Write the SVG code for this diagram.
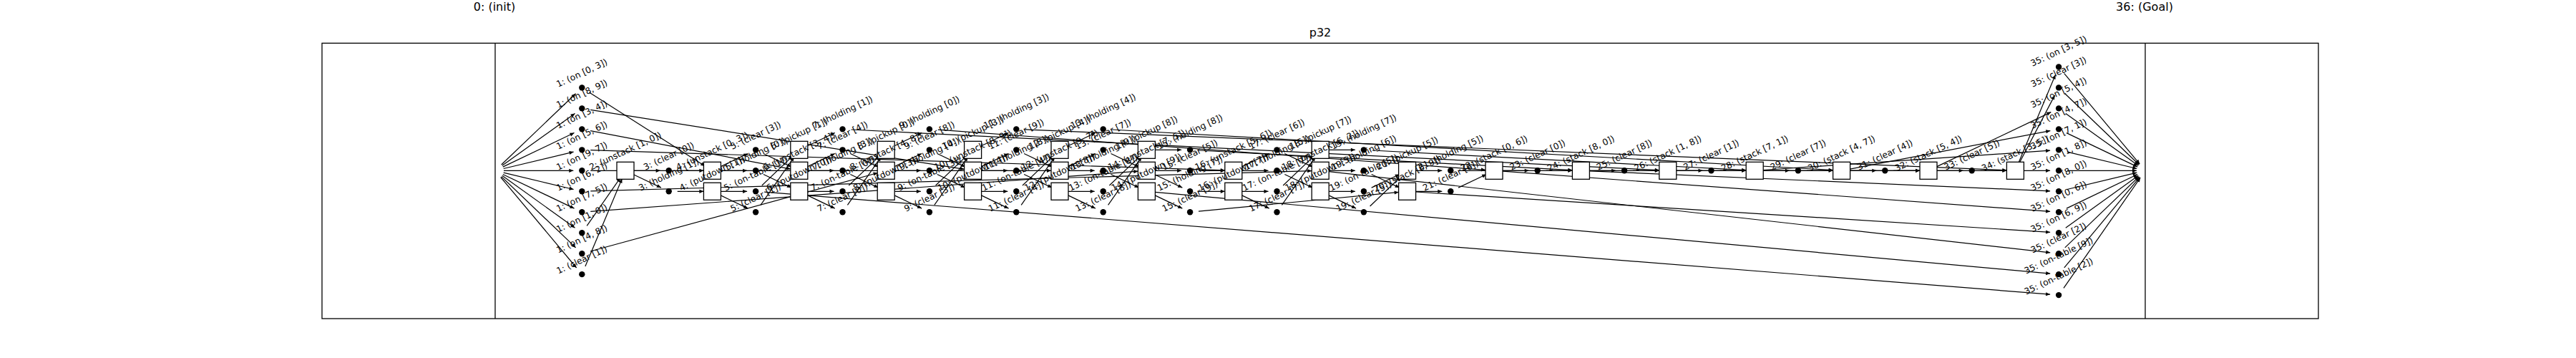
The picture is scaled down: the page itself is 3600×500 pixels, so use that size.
<svg xmlns="http://www.w3.org/2000/svg" width="3600" height="500" viewBox="0 0 3600 500">
<style>
.t{font-family:"DejaVu Sans",Verdana,sans-serif;font-size:12.2px;text-anchor:middle;dominant-baseline:central;fill:#000}
.h{font-family:"DejaVu Sans",Verdana,sans-serif;text-anchor:middle;fill:#000}
.d{fill:#000}
.b{fill:#fff;stroke:#000;stroke-width:1.3}
.e path{fill:none;stroke:#000;stroke-width:1.2;marker-end:url(#ah)}
.fr{fill:none;stroke:#000;stroke-width:1.3}
</style>
<defs>
<marker id="ah" markerUnits="userSpaceOnUse" orient="auto" refX="0" refY="0" markerWidth="8" markerHeight="8" overflow="visible"><path d="M0,0 L-6,-2.6 L-6,2.6 Z" fill="#000"/></marker>
</defs>
<rect width="3600" height="500" fill="#fff"/>
<g id="frame">
<rect class="fr" x="450" y="60.3" width="2790" height="384.7"/>
<line class="fr" x1="692" y1="60.3" x2="692" y2="445"/>
<line class="fr" x1="2998" y1="60.3" x2="2998" y2="445"/>
<text class="h" x="1845" y="51" font-size="16">p32</text>
</g>
<g id="init"><text class="h" x="691" y="15" font-size="16">0: (init)</text></g>
<g id="goal"><text class="h" x="2997" y="15" font-size="16">36: (Goal)</text></g>
<g id="connectors" class="e">
<path d="M700.7 230.0L804.6 130.7"/><path d="M701.8 231.3L803.5 158.4"/><path d="M702.8 233.1L802.5 185.5"/><path d="M703.7 235.5L801.6 212.1"/><path d="M704 238.3L801.3 238.3"/><path d="M703.7 241.1L801.6 264.5"/><path d="M702.8 243.5L802.5 291.1"/><path d="M701.8 245.3L803.5 318.2"/><path d="M700.7 246.6L804.6 345.9"/><path d="M699.7 247.5L805.6 374.0"/>
<path d="M2884.8 102.7L2990.3 229.1"/><path d="M2885.8 130.7L2989.3 230.0"/><path d="M2886.8 158.4L2988.3 231.3"/><path d="M2887.9 185.6L2987.2 233.1"/><path d="M2888.8 212.1L2986.3 235.5"/><path d="M2889.1 238.3L2986 238.3"/><path d="M2888.8 264.5L2986.3 241.1"/><path d="M2887.9 291.1L2987.2 243.5"/><path d="M2886.8 318.2L2988.3 245.3"/><path d="M2885.8 345.9L2989.3 246.6"/><path d="M2884.8 373.9L2990.3 247.5"/><path d="M2884.0 402.3L2991.2 248.2"/>
<path d="M823.4 128.9L985.3 231.9"/><path d="M825.2 153.3L1347.8 236.4"/><path d="M825.1 182.6L1105.0 236.1"/><path d="M825.3 209.7L1711.8 237.9"/><path d="M825.3 238.3L1469 238.3"/><path d="M825.3 266.9L1833.2 238.6"/><path d="M825.3 295.4L1590.4 239.2"/><path d="M820.2 315.4L867.1 248.1"/><path d="M824.9 351.0L1226.6 241.5"/><path d="M817.9 372.1L869.4 249.4"/>
<path d="M1068.1 268.2L2865.1 411.2"/><path d="M1189.5 181.0L2318.8 237.7"/><path d="M1310.9 181.2L2076.0 237.4"/><path d="M1432.3 180.9L2804.4 237.8"/><path d="M1553.7 181.0L2561.6 237.6"/><path d="M1675.1 210.0L2197.4 237.7"/><path d="M1675.0 295.1L1954.7 268.4"/><path d="M1917.9 210.0L2440.2 237.7"/><path d="M2039.3 238.3L2683 238.3"/>
<path d="M1614.4 268.4L2865.2 382.1"/><path d="M1857.1 239.6L2865.2 352.8"/><path d="M1978.6 268.0L2865.1 324.4"/><path d="M2100.0 239.2L2865.1 295.4"/><path d="M2221.4 238.8L2865.1 266.8"/><path d="M2342.8 238.3L2865.1 238.3"/><path d="M2464.2 237.5L2865.1 210.2"/><path d="M2585.4 236.1L2865.3 182.6"/><path d="M2705.8 233.1L2866.3 156.6"/><path d="M2822.0 227.7L2871.5 133.1"/><path d="M2821.0 227.2L2872.5 104.5"/>
<path d="M886 238.3L922.7 238.3"/><path d="M884.8 243.5L923.9 262.1"/>
<path d="M946.7 238.3L983.4 238.3"/><path d="M946.7 267.3L983.4 267.3"/>
<path d="M1006.2 233.1L1045.3 214.5"/><path d="M1007.4 238.3L1044.1 238.3"/><path d="M1007.4 267.3L1044.1 267.3"/><path d="M1006.2 272.4L1045.3 291.1"/>
<path d="M1066.9 214.5L1106.0 233.1"/><path d="M1066.9 243.5L1106.0 262.1"/><path d="M1064.8 259.0L1108.1 217.6"/><path d="M1063.0 286.4L1109.9 219.2"/>
<path d="M1127.6 204.2L1166.7 185.5"/><path d="M1127.6 233.1L1166.7 214.5"/><path d="M1128.8 238.3L1165.5 238.3"/><path d="M1128.8 267.3L1165.5 267.3"/><path d="M1127.6 272.4L1166.7 291.1"/>
<path d="M1188.3 214.5L1227.4 233.1"/><path d="M1188.3 243.5L1227.4 262.1"/><path d="M1186.2 259.0L1229.5 217.6"/><path d="M1184.4 286.4L1231.3 219.2"/>
<path d="M1249.0 204.2L1288.1 185.5"/><path d="M1249.0 233.1L1288.1 214.5"/><path d="M1250.2 238.3L1286.9 238.3"/><path d="M1250.2 267.3L1286.9 267.3"/><path d="M1249.0 272.4L1288.1 291.1"/>
<path d="M1309.7 214.5L1348.8 233.1"/><path d="M1309.7 243.5L1348.8 262.1"/><path d="M1307.6 259.0L1350.9 217.6"/><path d="M1305.8 286.4L1352.7 219.2"/>
<path d="M1370.4 204.2L1409.5 185.5"/><path d="M1370.4 233.1L1409.5 214.5"/><path d="M1371.6 238.3L1408.3 238.3"/><path d="M1371.6 267.3L1408.3 267.3"/><path d="M1370.4 272.4L1409.5 291.1"/>
<path d="M1431.1 214.5L1470.2 233.1"/><path d="M1431.1 243.5L1470.2 262.1"/><path d="M1429.0 259.0L1472.3 217.6"/><path d="M1427.2 286.4L1474.1 219.2"/>
<path d="M1491.8 204.2L1530.9 185.5"/><path d="M1491.8 233.1L1530.9 214.5"/><path d="M1493.0 238.3L1529.7 238.3"/><path d="M1493.0 267.3L1529.7 267.3"/><path d="M1491.8 272.4L1530.9 291.1"/>
<path d="M1552.5 214.5L1591.6 233.1"/><path d="M1552.5 243.5L1591.6 262.1"/><path d="M1550.4 259.0L1593.7 217.6"/><path d="M1548.6 286.4L1595.5 219.2"/>
<path d="M1614.4 209.3L1651.1 209.3"/><path d="M1614.4 238.3L1651.1 238.3"/><path d="M1613.2 243.5L1652.3 262.1"/><path d="M1613.2 272.4L1652.3 291.1"/>
<path d="M1675.1 238.3L1711.8 238.3"/><path d="M1675.1 267.3L1711.8 267.3"/>
<path d="M1734.6 233.1L1773.7 214.5"/><path d="M1735.8 238.3L1772.5 238.3"/><path d="M1735.8 267.3L1772.5 267.3"/><path d="M1734.6 272.4L1773.7 291.1"/>
<path d="M1795.3 214.5L1834.4 233.1"/><path d="M1795.3 243.5L1834.4 262.1"/><path d="M1793.2 259.0L1836.5 217.6"/><path d="M1791.4 286.4L1838.3 219.2"/>
<path d="M1857.2 209.3L1893.9 209.3"/><path d="M1857.2 238.3L1893.9 238.3"/><path d="M1857.2 267.3L1893.9 267.3"/><path d="M1856.0 272.4L1895.1 291.1"/>
<path d="M1916.7 243.5L1955.8 262.1"/><path d="M1916.7 262.1L1955.8 243.5"/><path d="M1914.6 288.0L1957.9 246.6"/>
<path d="M1978.6 238.3L2015.3 238.3"/><path d="M1978.6 267.3L2015.3 267.3"/>
<path d="M2038.1 262.1L2077.2 243.5"/>
<path d="M2100 238.3L2136.7 238.3"/><path d="M2160.7 238.3L2197.4 238.3"/><path d="M2221.4 238.3L2258.1 238.3"/><path d="M2282.1 238.3L2318.8 238.3"/><path d="M2342.8 238.3L2379.5 238.3"/><path d="M2403.5 238.3L2440.2 238.3"/><path d="M2464.2 238.3L2500.9 238.3"/><path d="M2524.9 238.3L2561.6 238.3"/><path d="M2585.6 238.3L2622.3 238.3"/><path d="M2646.3 238.3L2683 238.3"/><path d="M2707 238.3L2743.7 238.3"/><path d="M2767.7 238.3L2804.4 238.3"/>
</g>
<g id="f35_0"><circle class="d" cx="2877.1" cy="93.45" r="4.2"/><text class="t" x="2877.1" y="71.54" transform="rotate(-25 2877.1 71.54)">35: (on [3, 5])</text></g>
<g id="f35_1"><circle class="d" cx="2877.1" cy="122.42" r="4.2"/><text class="t" x="2877.1" y="100.64" transform="rotate(-25 2877.1 100.64)">35: (clear [3])</text></g>
<g id="f35_2"><circle class="d" cx="2877.1" cy="151.39" r="4.2"/><text class="t" x="2877.1" y="129.48" transform="rotate(-25 2877.1 129.48)">35: (on [5, 4])</text></g>
<g id="f35_3"><circle class="d" cx="2877.1" cy="180.36" r="4.2"/><text class="t" x="2877.1" y="158.45" transform="rotate(-25 2877.1 158.45)">35: (on [4, 7])</text></g>
<g id="f35_4"><circle class="d" cx="2877.1" cy="209.33" r="4.2"/><text class="t" x="2877.1" y="187.42" transform="rotate(-25 2877.1 187.42)">35: (on [7, 1])</text></g>
<g id="f35_5"><circle class="d" cx="2877.1" cy="238.3" r="4.2"/><text class="t" x="2877.1" y="216.39" transform="rotate(-25 2877.1 216.39)">35: (on [1, 8])</text></g>
<g id="f35_6"><circle class="d" cx="2877.1" cy="267.27" r="4.2"/><text class="t" x="2877.1" y="245.36" transform="rotate(-25 2877.1 245.36)">35: (on [8, 0])</text></g>
<g id="f35_7"><circle class="d" cx="2877.1" cy="296.24" r="4.2"/><text class="t" x="2877.1" y="274.33" transform="rotate(-25 2877.1 274.33)">35: (on [0, 6])</text></g>
<g id="f35_8"><circle class="d" cx="2877.1" cy="325.21" r="4.2"/><text class="t" x="2877.1" y="303.3" transform="rotate(-25 2877.1 303.3)">35: (on [6, 9])</text></g>
<g id="f35_9"><circle class="d" cx="2877.1" cy="354.18" r="4.2"/><text class="t" x="2877.1" y="332.4" transform="rotate(-25 2877.1 332.4)">35: (clear [2])</text></g>
<g id="f35_10"><circle class="d" cx="2877.1" cy="383.15" r="4.2"/><text class="t" x="2877.1" y="357.06" transform="rotate(-25 2877.1 357.06)">35: (on-table [9])</text></g>
<g id="f35_11"><circle class="d" cx="2877.1" cy="412.12" r="4.2"/><text class="t" x="2877.1" y="386.03" transform="rotate(-25 2877.1 386.03)">35: (on-table [2])</text></g>
<g id="a34_5"><rect class="b" x="2804.4" y="226.3" width="24" height="24"/><text class="t" x="2816.4" y="214.4" transform="rotate(-25 2816.4 214.4)">34: (stack [3, 5])</text></g>
<g id="f33_5"><circle class="d" cx="2755.7" cy="238.3" r="4.2"/><text class="t" x="2755.7" y="216.52" transform="rotate(-25 2755.7 216.52)">33: (clear [5])</text></g>
<g id="a32_5"><rect class="b" x="2683" y="226.3" width="24" height="24"/><text class="t" x="2695" y="214.4" transform="rotate(-25 2695 214.4)">32: (stack [5, 4])</text></g>
<g id="f31_5"><circle class="d" cx="2634.3" cy="238.3" r="4.2"/><text class="t" x="2634.3" y="216.52" transform="rotate(-25 2634.3 216.52)">31: (clear [4])</text></g>
<g id="a30_5"><rect class="b" x="2561.6" y="226.3" width="24" height="24"/><text class="t" x="2573.6" y="214.4" transform="rotate(-25 2573.6 214.4)">30: (stack [4, 7])</text></g>
<g id="f29_5"><circle class="d" cx="2512.9" cy="238.3" r="4.2"/><text class="t" x="2512.9" y="216.52" transform="rotate(-25 2512.9 216.52)">29: (clear [7])</text></g>
<g id="a28_5"><rect class="b" x="2440.2" y="226.3" width="24" height="24"/><text class="t" x="2452.2" y="214.4" transform="rotate(-25 2452.2 214.4)">28: (stack [7, 1])</text></g>
<g id="f27_5"><circle class="d" cx="2391.5" cy="238.3" r="4.2"/><text class="t" x="2391.5" y="216.52" transform="rotate(-25 2391.5 216.52)">27: (clear [1])</text></g>
<g id="a26_5"><rect class="b" x="2318.8" y="226.3" width="24" height="24"/><text class="t" x="2330.8" y="214.4" transform="rotate(-25 2330.8 214.4)">26: (stack [1, 8])</text></g>
<g id="f25_5"><circle class="d" cx="2270.1" cy="238.3" r="4.2"/><text class="t" x="2270.1" y="216.52" transform="rotate(-25 2270.1 216.52)">25: (clear [8])</text></g>
<g id="a24_5"><rect class="b" x="2197.4" y="226.3" width="24" height="24"/><text class="t" x="2209.4" y="214.4" transform="rotate(-25 2209.4 214.4)">24: (stack [8, 0])</text></g>
<g id="f23_5"><circle class="d" cx="2148.7" cy="238.3" r="4.2"/><text class="t" x="2148.7" y="216.52" transform="rotate(-25 2148.7 216.52)">23: (clear [0])</text></g>
<g id="a22_5"><rect class="b" x="2076" y="226.3" width="24" height="24"/><text class="t" x="2088" y="214.4" transform="rotate(-25 2088 214.4)">22: (stack [0, 6])</text></g>
<g id="f21_5"><circle class="d" cx="2027.3" cy="238.3" r="4.2"/><text class="t" x="2027.3" y="213.33" transform="rotate(-25 2027.3 213.33)">21: (holding [5])</text></g>
<g id="f21_6"><circle class="d" cx="2027.3" cy="267.27" r="4.2"/><text class="t" x="2027.3" y="245.49" transform="rotate(-25 2027.3 245.49)">21: (clear [6])</text></g>
<g id="a20_5"><rect class="b" x="1954.6" y="226.3" width="24" height="24"/><text class="t" x="1966.6" y="214.35" transform="rotate(-25 1966.6 214.35)">20: (pickup [5])</text></g>
<g id="a20_6"><rect class="b" x="1954.6" y="255.27" width="24" height="24"/><text class="t" x="1966.6" y="243.37" transform="rotate(-25 1966.6 243.37)">20: (stack [6, 9])</text></g>
<g id="f19_4"><circle class="d" cx="1905.9" cy="209.33" r="4.2"/><text class="t" x="1905.9" y="184.36" transform="rotate(-25 1905.9 184.36)">19: (holding [7])</text></g>
<g id="f19_5"><circle class="d" cx="1905.9" cy="238.3" r="4.2"/><text class="t" x="1905.9" y="213.33" transform="rotate(-25 1905.9 213.33)">19: (holding [6])</text></g>
<g id="f19_6"><circle class="d" cx="1905.9" cy="267.27" r="4.2"/><text class="t" x="1905.9" y="241.18" transform="rotate(-25 1905.9 241.18)">19: (on-table [5])</text></g>
<g id="f19_7"><circle class="d" cx="1905.9" cy="296.24" r="4.2"/><text class="t" x="1905.9" y="274.46" transform="rotate(-25 1905.9 274.46)">19: (clear [5])</text></g>
<g id="a18_4"><rect class="b" x="1833.2" y="197.33" width="24" height="24"/><text class="t" x="1845.2" y="185.38" transform="rotate(-25 1845.2 185.38)">18: (pickup [7])</text></g>
<g id="a18_5"><rect class="b" x="1833.2" y="226.3" width="24" height="24"/><text class="t" x="1845.2" y="209.49" transform="rotate(-25 1845.2 209.49)">18: (unstack [6, 2])</text></g>
<g id="a18_6"><rect class="b" x="1833.2" y="255.27" width="24" height="24"/><text class="t" x="1845.2" y="240.61" transform="rotate(-25 1845.2 240.61)">18: (putdown [5])</text></g>
<g id="f17_4"><circle class="d" cx="1784.5" cy="209.33" r="4.2"/><text class="t" x="1784.5" y="187.55" transform="rotate(-25 1784.5 187.55)">17: (clear [6])</text></g>
<g id="f17_5"><circle class="d" cx="1784.5" cy="238.3" r="4.2"/><text class="t" x="1784.5" y="213.33" transform="rotate(-25 1784.5 213.33)">17: (holding [5])</text></g>
<g id="f17_6"><circle class="d" cx="1784.5" cy="267.27" r="4.2"/><text class="t" x="1784.5" y="241.18" transform="rotate(-25 1784.5 241.18)">17: (on-table [7])</text></g>
<g id="f17_7"><circle class="d" cx="1784.5" cy="296.24" r="4.2"/><text class="t" x="1784.5" y="274.46" transform="rotate(-25 1784.5 274.46)">17: (clear [7])</text></g>
<g id="a16_5"><rect class="b" x="1711.8" y="226.3" width="24" height="24"/><text class="t" x="1723.8" y="209.49" transform="rotate(-25 1723.8 209.49)">16: (unstack [5, 6])</text></g>
<g id="a16_6"><rect class="b" x="1711.8" y="255.27" width="24" height="24"/><text class="t" x="1723.8" y="240.61" transform="rotate(-25 1723.8 240.61)">16: (putdown [7])</text></g>
<g id="f15_4"><circle class="d" cx="1663.1" cy="209.33" r="4.2"/><text class="t" x="1663.1" y="184.36" transform="rotate(-25 1663.1 184.36)">15: (holding [8])</text></g>
<g id="f15_5"><circle class="d" cx="1663.1" cy="238.3" r="4.2"/><text class="t" x="1663.1" y="216.52" transform="rotate(-25 1663.1 216.52)">15: (clear [5])</text></g>
<g id="f15_6"><circle class="d" cx="1663.1" cy="267.27" r="4.2"/><text class="t" x="1663.1" y="242.3" transform="rotate(-25 1663.1 242.3)">15: (holding [7])</text></g>
<g id="f15_7"><circle class="d" cx="1663.1" cy="296.24" r="4.2"/><text class="t" x="1663.1" y="274.46" transform="rotate(-25 1663.1 274.46)">15: (clear [9])</text></g>
<g id="a14_4"><rect class="b" x="1590.4" y="197.33" width="24" height="24"/><text class="t" x="1602.4" y="185.38" transform="rotate(-25 1602.4 185.38)">14: (pickup [8])</text></g>
<g id="a14_5"><rect class="b" x="1590.4" y="226.3" width="24" height="24"/><text class="t" x="1602.4" y="209.49" transform="rotate(-25 1602.4 209.49)">14: (unstack [7, 5])</text></g>
<g id="a14_6"><rect class="b" x="1590.4" y="255.27" width="24" height="24"/><text class="t" x="1602.4" y="240.61" transform="rotate(-25 1602.4 240.61)">14: (putdown [9])</text></g>
<g id="f13_3"><circle class="d" cx="1541.7" cy="180.36" r="4.2"/><text class="t" x="1541.7" y="155.39" transform="rotate(-25 1541.7 155.39)">13: (holding [4])</text></g>
<g id="f13_4"><circle class="d" cx="1541.7" cy="209.33" r="4.2"/><text class="t" x="1541.7" y="187.55" transform="rotate(-25 1541.7 187.55)">13: (clear [7])</text></g>
<g id="f13_5"><circle class="d" cx="1541.7" cy="238.3" r="4.2"/><text class="t" x="1541.7" y="213.33" transform="rotate(-25 1541.7 213.33)">13: (holding [9])</text></g>
<g id="f13_6"><circle class="d" cx="1541.7" cy="267.27" r="4.2"/><text class="t" x="1541.7" y="241.18" transform="rotate(-25 1541.7 241.18)">13: (on-table [8])</text></g>
<g id="f13_7"><circle class="d" cx="1541.7" cy="296.24" r="4.2"/><text class="t" x="1541.7" y="274.46" transform="rotate(-25 1541.7 274.46)">13: (clear [8])</text></g>
<g id="a12_4"><rect class="b" x="1469" y="197.33" width="24" height="24"/><text class="t" x="1481" y="185.38" transform="rotate(-25 1481 185.38)">12: (pickup [4])</text></g>
<g id="a12_5"><rect class="b" x="1469" y="226.3" width="24" height="24"/><text class="t" x="1481" y="209.49" transform="rotate(-25 1481 209.49)">12: (unstack [9, 7])</text></g>
<g id="a12_6"><rect class="b" x="1469" y="255.27" width="24" height="24"/><text class="t" x="1481" y="240.61" transform="rotate(-25 1481 240.61)">12: (putdown [8])</text></g>
<g id="f11_3"><circle class="d" cx="1420.3" cy="180.36" r="4.2"/><text class="t" x="1420.3" y="155.39" transform="rotate(-25 1420.3 155.39)">11: (holding [3])</text></g>
<g id="f11_4"><circle class="d" cx="1420.3" cy="209.33" r="4.2"/><text class="t" x="1420.3" y="187.55" transform="rotate(-25 1420.3 187.55)">11: (clear [9])</text></g>
<g id="f11_5"><circle class="d" cx="1420.3" cy="238.3" r="4.2"/><text class="t" x="1420.3" y="213.33" transform="rotate(-25 1420.3 213.33)">11: (holding [8])</text></g>
<g id="f11_6"><circle class="d" cx="1420.3" cy="267.27" r="4.2"/><text class="t" x="1420.3" y="241.18" transform="rotate(-25 1420.3 241.18)">11: (on-table [4])</text></g>
<g id="f11_7"><circle class="d" cx="1420.3" cy="296.24" r="4.2"/><text class="t" x="1420.3" y="274.46" transform="rotate(-25 1420.3 274.46)">11: (clear [4])</text></g>
<g id="a10_4"><rect class="b" x="1347.6" y="197.33" width="24" height="24"/><text class="t" x="1359.6" y="185.38" transform="rotate(-25 1359.6 185.38)">10: (pickup [3])</text></g>
<g id="a10_5"><rect class="b" x="1347.6" y="226.3" width="24" height="24"/><text class="t" x="1359.6" y="209.49" transform="rotate(-25 1359.6 209.49)">10: (unstack [8, 9])</text></g>
<g id="a10_6"><rect class="b" x="1347.6" y="255.27" width="24" height="24"/><text class="t" x="1359.6" y="240.61" transform="rotate(-25 1359.6 240.61)">10: (putdown [4])</text></g>
<g id="f9_3"><circle class="d" cx="1298.9" cy="180.36" r="4.2"/><text class="t" x="1298.9" y="157.03" transform="rotate(-25 1298.9 157.03)">9: (holding [0])</text></g>
<g id="f9_4"><circle class="d" cx="1298.9" cy="209.33" r="4.2"/><text class="t" x="1298.9" y="189.19" transform="rotate(-25 1298.9 189.19)">9: (clear [8])</text></g>
<g id="f9_5"><circle class="d" cx="1298.9" cy="238.3" r="4.2"/><text class="t" x="1298.9" y="214.97" transform="rotate(-25 1298.9 214.97)">9: (holding [4])</text></g>
<g id="f9_6"><circle class="d" cx="1298.9" cy="267.27" r="4.2"/><text class="t" x="1298.9" y="242.82" transform="rotate(-25 1298.9 242.82)">9: (on-table [3])</text></g>
<g id="f9_7"><circle class="d" cx="1298.9" cy="296.24" r="4.2"/><text class="t" x="1298.9" y="276.1" transform="rotate(-25 1298.9 276.1)">9: (clear [3])</text></g>
<g id="a8_4"><rect class="b" x="1226.2" y="197.33" width="24" height="24"/><text class="t" x="1238.2" y="187.01" transform="rotate(-25 1238.2 187.01)">8: (pickup [0])</text></g>
<g id="a8_5"><rect class="b" x="1226.2" y="226.3" width="24" height="24"/><text class="t" x="1238.2" y="211.13" transform="rotate(-25 1238.2 211.13)">8: (unstack [4, 8])</text></g>
<g id="a8_6"><rect class="b" x="1226.2" y="255.27" width="24" height="24"/><text class="t" x="1238.2" y="242.25" transform="rotate(-25 1238.2 242.25)">8: (putdown [3])</text></g>
<g id="f7_3"><circle class="d" cx="1177.5" cy="180.36" r="4.2"/><text class="t" x="1177.5" y="157.03" transform="rotate(-25 1177.5 157.03)">7: (holding [1])</text></g>
<g id="f7_4"><circle class="d" cx="1177.5" cy="209.33" r="4.2"/><text class="t" x="1177.5" y="189.19" transform="rotate(-25 1177.5 189.19)">7: (clear [4])</text></g>
<g id="f7_5"><circle class="d" cx="1177.5" cy="238.3" r="4.2"/><text class="t" x="1177.5" y="214.97" transform="rotate(-25 1177.5 214.97)">7: (holding [3])</text></g>
<g id="f7_6"><circle class="d" cx="1177.5" cy="267.27" r="4.2"/><text class="t" x="1177.5" y="242.82" transform="rotate(-25 1177.5 242.82)">7: (on-table [0])</text></g>
<g id="f7_7"><circle class="d" cx="1177.5" cy="296.24" r="4.2"/><text class="t" x="1177.5" y="276.1" transform="rotate(-25 1177.5 276.1)">7: (clear [0])</text></g>
<g id="a6_4"><rect class="b" x="1104.8" y="197.33" width="24" height="24"/><text class="t" x="1116.8" y="187.01" transform="rotate(-25 1116.8 187.01)">6: (pickup [1])</text></g>
<g id="a6_5"><rect class="b" x="1104.8" y="226.3" width="24" height="24"/><text class="t" x="1116.8" y="211.13" transform="rotate(-25 1116.8 211.13)">6: (unstack [3, 4])</text></g>
<g id="a6_6"><rect class="b" x="1104.8" y="255.27" width="24" height="24"/><text class="t" x="1116.8" y="242.25" transform="rotate(-25 1116.8 242.25)">6: (putdown [0])</text></g>
<g id="f5_4"><circle class="d" cx="1056.1" cy="209.33" r="4.2"/><text class="t" x="1056.1" y="189.19" transform="rotate(-25 1056.1 189.19)">5: (clear [3])</text></g>
<g id="f5_5"><circle class="d" cx="1056.1" cy="238.3" r="4.2"/><text class="t" x="1056.1" y="214.97" transform="rotate(-25 1056.1 214.97)">5: (holding [0])</text></g>
<g id="f5_6"><circle class="d" cx="1056.1" cy="267.27" r="4.2"/><text class="t" x="1056.1" y="242.82" transform="rotate(-25 1056.1 242.82)">5: (on-table [1])</text></g>
<g id="f5_7"><circle class="d" cx="1056.1" cy="296.24" r="4.2"/><text class="t" x="1056.1" y="276.1" transform="rotate(-25 1056.1 276.1)">5: (clear [1])</text></g>
<g id="a4_5"><rect class="b" x="983.4" y="226.3" width="24" height="24"/><text class="t" x="995.4" y="211.13" transform="rotate(-25 995.4 211.13)">4: (unstack [0, 3])</text></g>
<g id="a4_6"><rect class="b" x="983.4" y="255.27" width="24" height="24"/><text class="t" x="995.4" y="242.25" transform="rotate(-25 995.4 242.25)">4: (putdown [1])</text></g>
<g id="f3_5"><circle class="d" cx="934.7" cy="238.3" r="4.2"/><text class="t" x="934.7" y="218.16" transform="rotate(-25 934.7 218.16)">3: (clear [0])</text></g>
<g id="f3_6"><circle class="d" cx="934.7" cy="267.27" r="4.2"/><text class="t" x="934.7" y="243.94" transform="rotate(-25 934.7 243.94)">3: (holding [1])</text></g>
<g id="a2_5"><rect class="b" x="862" y="226.3" width="24" height="24"/><text class="t" x="874" y="211.13" transform="rotate(-25 874 211.13)">2: (unstack [1, 0])</text></g>
<g id="f1_1"><circle class="d" cx="813.3" cy="122.42" r="4.2"/><text class="t" x="813.3" y="102.15" transform="rotate(-25 813.3 102.15)">1: (on [0, 3])</text></g>
<g id="f1_2"><circle class="d" cx="813.3" cy="151.39" r="4.2"/><text class="t" x="813.3" y="131.12" transform="rotate(-25 813.3 131.12)">1: (on [8, 9])</text></g>
<g id="f1_3"><circle class="d" cx="813.3" cy="180.36" r="4.2"/><text class="t" x="813.3" y="160.09" transform="rotate(-25 813.3 160.09)">1: (on [3, 4])</text></g>
<g id="f1_4"><circle class="d" cx="813.3" cy="209.33" r="4.2"/><text class="t" x="813.3" y="189.06" transform="rotate(-25 813.3 189.06)">1: (on [5, 6])</text></g>
<g id="f1_5"><circle class="d" cx="813.3" cy="238.3" r="4.2"/><text class="t" x="813.3" y="218.03" transform="rotate(-25 813.3 218.03)">1: (on [9, 7])</text></g>
<g id="f1_6"><circle class="d" cx="813.3" cy="267.27" r="4.2"/><text class="t" x="813.3" y="247" transform="rotate(-25 813.3 247)">1: (on [6, 2])</text></g>
<g id="f1_7"><circle class="d" cx="813.3" cy="296.24" r="4.2"/><text class="t" x="813.3" y="275.97" transform="rotate(-25 813.3 275.97)">1: (on [7, 5])</text></g>
<g id="f1_8"><circle class="d" cx="813.3" cy="325.21" r="4.2"/><text class="t" x="813.3" y="304.94" transform="rotate(-25 813.3 304.94)">1: (on [1, 0])</text></g>
<g id="f1_9"><circle class="d" cx="813.3" cy="354.18" r="4.2"/><text class="t" x="813.3" y="333.91" transform="rotate(-25 813.3 333.91)">1: (on [4, 8])</text></g>
<g id="f1_10"><circle class="d" cx="813.3" cy="383.15" r="4.2"/><text class="t" x="813.3" y="363.01" transform="rotate(-25 813.3 363.01)">1: (clear [1])</text></g>
</svg>
